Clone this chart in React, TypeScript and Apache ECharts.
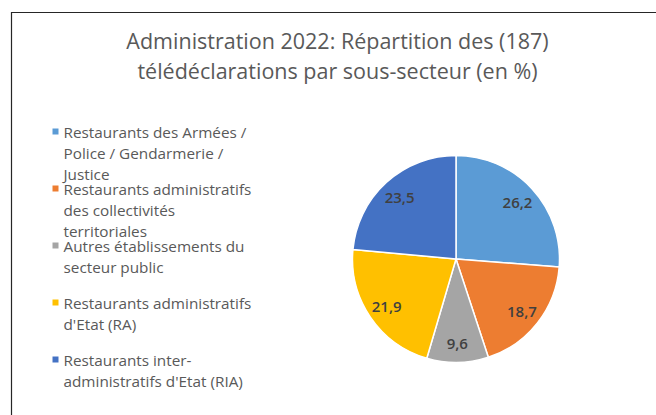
import React, { useEffect, useRef } from "react";
import * as echarts from "echarts";

const categories = [
  "Restaurants des Armées / Police / Gendarmerie / Justice",
  "Restaurants administratifs des collectivités territoriales",
  "Autres établissements du secteur public",
  "Restaurants administratifs d'Etat (RA)",
  "Restaurants inter-administratifs d'Etat (RIA)",
];
const legendLines = [
  ["Restaurants des Armées /", "Police / Gendarmerie /", "Justice"],
  ["Restaurants administratifs", "des collectivités", "territoriales"],
  ["Autres établissements du", "secteur public"],
  ["Restaurants administratifs", "d'Etat (RA)"],
  ["Restaurants inter-", "administratifs d'Etat (RIA)"],
];
const values = [26.2, 18.7, 9.6, 21.9, 23.5];
const colors = ["#5B9BD5", "#ED7D31", "#A5A5A5", "#FFC000", "#4472C4"];
const titleText =
  "Administration 2022: Répartition des (187)\ntélédéclarations par sous-secteur (en %)";

const FONT = "Open Sans";
const LH = 21;

export default function App() {
  const ref = useRef<HTMLDivElement>(null);
  useEffect(() => {
    const chart = echarts.init(ref.current!, null, { renderer: "svg" });
    const data = categories.map((name, i) => ({
      name,
      value: values[i],
      itemStyle: { color: colors[i] },
    }));
    chart.setOption({
      animation: false,
      textStyle: { fontFamily: FONT },
      title: {
        text: titleText,
        left: 337.5,
        top: 25.5,
        padding: 0,
        textAlign: "center",
        textStyle: {
          fontFamily: FONT,
          fontSize: 21.5,
          fontWeight: "normal",
          color: "#595959",
          lineHeight: 30,
        },
      },
      legend: {
        orient: "vertical",
        left: 52.5,
        top: 121,
        padding: 0,
        itemGap: -6,
        itemWidth: 6,
        itemHeight: 3 * LH,
        icon: "path://M0,0M0,7.5h6v6h-6zM0,63",
        selectedMode: false,
        itemStyle: { borderWidth: 0 },
        formatter: (name: string) => {
          const lines = legendLines[categories.indexOf(name)].slice();
          while (lines.length < 3) lines.push(" ");
          return lines.join("\n");
        },
        textStyle: {
          fontFamily: FONT,
          fontSize: 15.3,
          lineHeight: LH,
          color: "#595959",
        },
        data: categories,
      },
      series: [
        {
          type: "pie",
          center: [456, 259],
          radius: [0, 103.5],
          startAngle: 90,
          clockwise: true,
          label: { show: false },
          labelLine: { show: false },
          itemStyle: { borderColor: "#ffffff", borderWidth: 1.5 },
          emphasis: { disabled: true },
          data,
        },
        {
          type: "pie",
          center: [456, 259],
          radius: [58, 103.5],
          startAngle: 90,
          clockwise: true,
          silent: true,
          itemStyle: { color: "rgba(0,0,0,0)" },
          emphasis: { disabled: true },
          label: {
            show: true,
            position: "inside",
            fontFamily: FONT,
            fontSize: 15,
            fontWeight: 600,
            color: "#404040",
            formatter: (p: any) => String(p.value).replace(".", ","),
          },
          labelLine: { show: false },
          data: categories.map((name, i) => ({ name, value: values[i] })),
        },
      ],
      graphic: [
        {
          type: "rect",
          shape: { x: 11.5, y: 12.5, width: 700, height: 500 },
          style: { fill: "none", stroke: "#262626", lineWidth: 1.2 },
          silent: true,
        },
      ],
    });
    return () => chart.dispose();
  }, []);
  return (
    <div
      ref={ref}
      style={{ position: "fixed", left: 0, top: 0, width: 656, height: 415, background: "#fff" }}
    />
  );
}
